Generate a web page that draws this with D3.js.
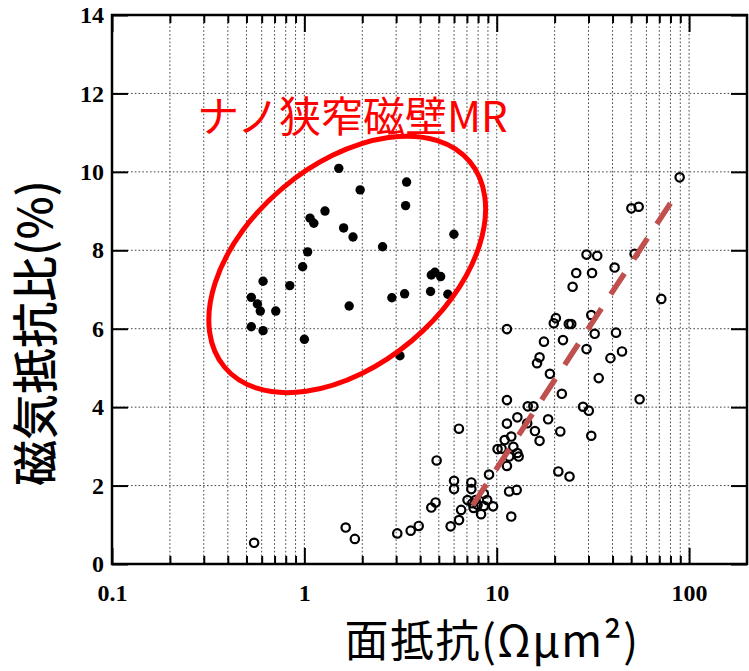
<!DOCTYPE html>
<html>
<head>
<meta charset="utf-8">
<script src="https://cdn.jsdelivr.net/npm/d3@7/dist/d3.min.js"></script>
<style>
  html, body { margin: 0; padding: 0; background: #fff; }
  svg { display: block; }
</style>
</head>
<body>
<svg id="chart" width="749" height="671"></svg>
<script>
// Axis ticks
const xMajorTicks = [0.1, 1, 10, 100];
const xTickLabels = ["0.1", "1", "10", "100"];
const xMinorTicks = [0.2,0.3,0.4,0.5,0.6,0.7,0.8,0.9, 2,3,4,5,6,7,8,9, 20,30,40,50,60,70,80,90];
const yTicks = [0, 2, 4, 6, 8, 10, 12, 14];
const yTickLabels = ["0", "2", "4", "6", "8", "10", "12", "14"];

// Nano-constricted domain wall MR samples (filled dots)
const wallRA = [1.51, 3.40, 1.95, 3.36, 1.28, 1.07, 1.12, 1.60, 1.79, 5.99, 2.55, 1.04, 0.98, 0.61, 0.84,
                4.57, 4.77, 5.11, 4.53, 5.57, 3.32, 2.85, 0.53, 0.57, 0.59, 0.71, 1.71, 0.53, 0.61, 1.00, 3.14];
const wallMR = [10.09, 9.74, 9.54, 9.14, 9.00, 8.82, 8.69, 8.57, 8.34, 8.41, 8.09, 7.96, 7.58, 7.21, 7.10,
                7.37, 7.44, 7.33, 6.95, 6.88, 6.89, 6.79, 6.80, 6.63, 6.45, 6.45, 6.58, 6.05, 5.95, 5.73, 5.31];

// Other samples (open circles)
const otherRA = [0.548, 1.64, 1.83, 3.04, 3.57, 3.93, 6.36, 4.87, 4.57, 4.81, 5.76, 6.37, 6.53, 6.00, 6.00,
                 7.38, 7.38, 9.12, 7.05, 7.47, 7.76, 8.92, 8.57, 9.57, 8.29, 8.57, 11.9, 11.6, 12.7, 11.3,
                 11.6, 12.8, 13.0, 10.1, 10.6, 12.2, 11.0, 11.9, 16.7, 15.8, 21.4, 11.3, 14.4, 12.8, 18.5,
                 14.5, 15.5, 11.3, 21.8, 20.9, 23.9, 28.1, 30.1, 31.0, 55.3, 18.9, 33.9, 16.7, 16.2, 29.3,
                 44.8, 39.0, 17.6, 22.1, 32.3, 41.7, 20.3, 19.8, 23.7, 24.4, 31.0, 11.3, 71.7, 24.8, 25.9,
                 31.3, 41.0, 29.3, 33.3, 52.1, 50.1, 54.7, 89.3, 7.95, 7.58];
const otherMR = [0.54, 0.93, 0.64, 0.78, 0.85, 0.97, 3.45, 2.64, 1.44, 1.57, 0.96, 1.12, 1.38, 2.12, 1.91,
                 2.08, 1.91, 2.28, 1.63, 1.55, 1.63, 1.63, 1.48, 1.47, 1.27, 1.79, 1.21, 1.85, 1.89, 2.50,
                 2.74, 2.83, 2.74, 2.93, 2.94, 2.99, 3.16, 3.25, 3.14, 3.39, 3.38, 3.58, 3.59, 3.74, 3.69,
                 4.02, 4.02, 4.18, 4.34, 2.36, 2.23, 4.01, 3.91, 3.27, 4.20, 4.85, 4.74, 5.27, 5.12, 5.48,
                 5.42, 5.25, 5.67, 5.71, 5.87, 5.90, 6.27, 6.14, 6.12, 6.12, 6.35, 5.99, 6.76, 7.07, 7.42,
                 7.42, 7.56, 7.89, 7.86, 7.91, 9.07, 9.11, 9.86, 1.51, 1.43];

// Trend line endpoints
const trendRA = [7.5, 80];
const trendMR = [1.5, 9.2];

// Annotation: ellipse centre and label anchor (data units)
const groupCenter = [1.67, 7.64];
const groupLabel = "ナノ狭窄磁壁MR";
const groupLabelAt = [0.277, 11.02];

const svg = d3.select("#chart");
const margin = { left: 112, top: 15, right: 2, bottom: 107 };
const W = 749, H = 671;
const iw = W - margin.left - margin.right;
const ih = H - margin.top - margin.bottom;

const x = d3.scaleLog().domain([0.1, 200]).range([0, iw]);
const y = d3.scaleLinear().domain([0, 14]).range([ih, 0]);

const g = svg.append("g").attr("transform", `translate(${margin.left},${margin.top})`);

// Dotted grid
const grid = g.append("g").attr("stroke", "#444").attr("stroke-width", 1)
  .attr("stroke-dasharray", "1.6,2.2").attr("fill", "none");
grid.selectAll("line.v").data(xMinorTicks.concat([1, 10, 100])).join("line")
  .attr("x1", d => x(d)).attr("x2", d => x(d)).attr("y1", 0).attr("y2", ih);
grid.selectAll("line.h").data(yTicks.slice(1, -1)).join("line")
  .attr("x1", 0).attr("x2", iw).attr("y1", d => y(d)).attr("y2", d => y(d));

// Axes with inward ticks
const tickFont = "'Liberation Serif', 'Times New Roman', serif";
function styleAxis(sel) {
  sel.select(".domain").remove();
  sel.selectAll(".tick line").attr("stroke", "#000").attr("stroke-width", 2);
}
const xb = g.append("g").attr("transform", `translate(0,${ih})`)
  .call(d3.axisBottom(x).tickValues(xMajorTicks).tickSize(-16).tickPadding(20)
    .tickFormat((d, i) => xTickLabels[i]));
styleAxis(xb);
xb.selectAll("text").attr("font-family", tickFont).attr("font-weight", "bold")
  .attr("font-size", 24).attr("fill", "#000");
const xbm = g.append("g").attr("transform", `translate(0,${ih})`)
  .call(d3.axisBottom(x).tickValues(xMinorTicks).tickSize(-8).tickFormat(""));
styleAxis(xbm);
const xt = g.append("g")
  .call(d3.axisTop(x).tickValues(xMajorTicks).tickSize(-17).tickFormat(""));
styleAxis(xt);
const xtm = g.append("g")
  .call(d3.axisTop(x).tickValues(xMinorTicks).tickSize(-8).tickFormat(""));
styleAxis(xtm);

const yl = g.append("g")
  .call(d3.axisLeft(y).tickValues(yTicks).tickSize(-16).tickPadding(8)
    .tickFormat((d, i) => yTickLabels[i]));
styleAxis(yl);
yl.selectAll("text").attr("font-family", tickFont).attr("font-weight", "bold")
  .attr("font-size", 24).attr("fill", "#000");
const yr = g.append("g").attr("transform", `translate(${iw},0)`)
  .call(d3.axisRight(y).tickValues(yTicks).tickSize(-16).tickFormat(""));
styleAxis(yr);

// Frame
g.append("rect").attr("x", 0).attr("y", 0).attr("width", iw).attr("height", ih)
  .attr("fill", "none").attr("stroke", "#000").attr("stroke-width", 2.5);

// Open circles
g.append("g").selectAll("circle").data(otherRA.map((v, i) => [v, otherMR[i]])).join("circle")
  .attr("cx", d => x(d[0])).attr("cy", d => y(d[1])).attr("r", 4.2)
  .attr("fill", "none").attr("stroke", "#000").attr("stroke-width", 2.2);

// Filled dots
g.append("g").selectAll("circle").data(wallRA.map((v, i) => [v, wallMR[i]])).join("circle")
  .attr("cx", d => x(d[0])).attr("cy", d => y(d[1])).attr("r", 4.7)
  .attr("fill", "#000");

// Dashed trend line
g.append("line")
  .attr("x1", x(trendRA[0])).attr("y1", y(trendMR[0]))
  .attr("x2", x(trendRA[1])).attr("y2", y(trendMR[1]))
  .attr("stroke", "#c0504d").attr("stroke-width", 5.5)
  .attr("stroke-dasharray", "25,17");

// Ellipse around the domain-wall group
g.append("ellipse")
  .attr("transform", `translate(${x(groupCenter[0])},${y(groupCenter[1])}) rotate(-40)`)
  .attr("rx", 160).attr("ry", 100)
  .attr("fill", "none").attr("stroke", "#ff0000").attr("stroke-width", 5);

const jp = "'Noto Sans CJK JP', 'Noto Sans', sans-serif";
g.append("text")
  .attr("x", x(groupLabelAt[0])).attr("y", y(groupLabelAt[1]))
  .attr("font-family", jp).attr("font-size", 42).attr("fill", "#ff0000")
  .text(groupLabel);

// Axis titles
svg.append("text")
  .attr("transform", `translate(52,333) rotate(-90)`)
  .attr("text-anchor", "middle")
  .attr("font-family", jp).attr("font-size", 46).attr("font-weight", 500).attr("fill", "#000")
  .text("磁気抵抗比(%)");
svg.append("text")
  .attr("x", 492).attr("y", 657)
  .attr("text-anchor", "middle")
  .attr("font-family", jp).attr("font-size", 44).attr("letter-spacing", 1.5).attr("fill", "#000")
  .text("面抵抗(Ωμm²)");
</script>
</body>
</html>
